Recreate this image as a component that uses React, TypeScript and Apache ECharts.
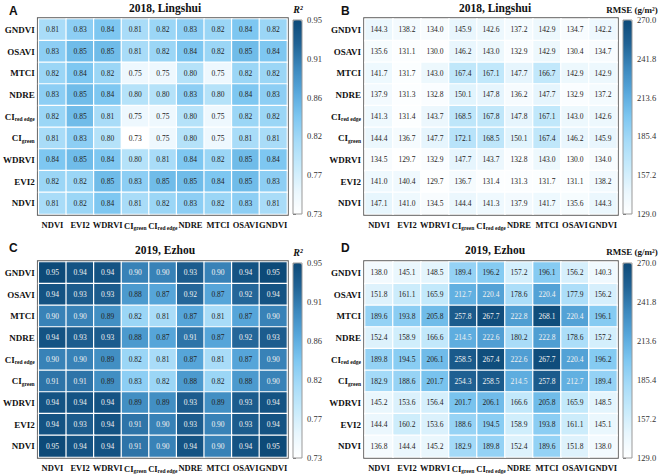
import React, { useEffect, useRef } from 'react';
import * as echarts from 'echarts';

// categories from bottom (y) / left (x)
const categories = ['NDVI', 'EVI2', 'WDRVI', 'CIgreen', 'CIred edge', 'NDRE', 'MTCI', 'OSAVI', 'GNDVI'];

// rows listed from top (GNDVI) to bottom (NDVI); columns NDVI..GNDVI
const r2Lingshui = [
  [0.81, 0.83, 0.84, 0.81, 0.82, 0.83, 0.82, 0.84, 0.82],
  [0.83, 0.85, 0.85, 0.81, 0.82, 0.84, 0.82, 0.85, 0.84],
  [0.82, 0.84, 0.82, 0.75, 0.75, 0.80, 0.75, 0.82, 0.82],
  [0.83, 0.85, 0.84, 0.80, 0.80, 0.83, 0.80, 0.84, 0.83],
  [0.82, 0.85, 0.81, 0.75, 0.75, 0.80, 0.75, 0.82, 0.82],
  [0.81, 0.83, 0.80, 0.73, 0.75, 0.80, 0.75, 0.81, 0.81],
  [0.84, 0.85, 0.84, 0.80, 0.81, 0.84, 0.82, 0.85, 0.84],
  [0.82, 0.82, 0.85, 0.83, 0.85, 0.85, 0.84, 0.85, 0.83],
  [0.81, 0.82, 0.84, 0.81, 0.82, 0.83, 0.82, 0.83, 0.81],
];

const rmseLingshui = [
  [144.3, 138.2, 134.0, 145.9, 142.6, 137.2, 142.9, 134.7, 142.2],
  [135.6, 131.1, 130.0, 146.2, 143.0, 132.9, 142.9, 130.4, 134.7],
  [141.7, 131.7, 143.0, 167.4, 167.1, 147.7, 166.7, 142.9, 142.9],
  [137.9, 131.3, 132.8, 150.1, 147.8, 136.2, 147.7, 132.9, 137.2],
  [141.3, 131.4, 143.7, 168.5, 167.8, 147.8, 167.1, 143.0, 142.6],
  [144.4, 136.7, 147.7, 172.1, 168.5, 150.1, 167.4, 146.2, 145.9],
  [134.5, 129.7, 132.9, 147.7, 143.7, 132.8, 143.0, 130.0, 134.0],
  [141.0, 140.4, 129.7, 136.7, 131.4, 131.3, 131.7, 131.1, 138.2],
  [147.1, 141.0, 134.5, 144.4, 141.3, 137.9, 141.7, 135.6, 144.3],
];

const r2Ezhou = [
  [0.95, 0.94, 0.94, 0.90, 0.90, 0.93, 0.90, 0.94, 0.95],
  [0.94, 0.93, 0.93, 0.88, 0.87, 0.92, 0.87, 0.92, 0.94],
  [0.90, 0.90, 0.89, 0.82, 0.81, 0.87, 0.81, 0.87, 0.90],
  [0.94, 0.93, 0.93, 0.88, 0.87, 0.91, 0.87, 0.92, 0.93],
  [0.90, 0.90, 0.89, 0.82, 0.81, 0.87, 0.81, 0.87, 0.90],
  [0.91, 0.91, 0.89, 0.83, 0.82, 0.88, 0.82, 0.88, 0.90],
  [0.94, 0.94, 0.94, 0.89, 0.89, 0.93, 0.89, 0.93, 0.94],
  [0.94, 0.93, 0.94, 0.91, 0.90, 0.93, 0.90, 0.93, 0.94],
  [0.95, 0.94, 0.94, 0.91, 0.90, 0.94, 0.90, 0.94, 0.95],
];

const rmseEzhou = [
  [138.0, 145.1, 148.5, 189.4, 196.2, 157.2, 196.1, 156.2, 140.3],
  [151.8, 161.1, 165.9, 212.7, 220.4, 178.6, 220.4, 177.9, 156.2],
  [189.6, 193.8, 205.8, 257.8, 267.7, 222.8, 268.1, 220.4, 196.1],
  [152.4, 158.9, 166.6, 214.5, 222.6, 180.2, 222.8, 178.6, 157.2],
  [189.8, 194.5, 206.1, 258.5, 267.4, 222.6, 267.7, 220.4, 196.2],
  [182.9, 188.6, 201.7, 254.3, 258.5, 214.5, 257.8, 212.7, 189.4],
  [145.2, 153.6, 156.4, 201.7, 206.1, 166.6, 205.8, 165.9, 148.5],
  [144.4, 160.2, 153.6, 188.6, 194.5, 158.9, 193.8, 161.1, 145.1],
  [136.8, 144.4, 145.2, 182.9, 189.8, 152.4, 189.6, 151.8, 138.0],
];

const r2Ticks = ['0.73', '0.77', '0.82', '0.86', '0.91', '0.95'];
const rmseTicks = ['129.0', '157.2', '185.4', '213.6', '241.8', '270.0'];
const r2Range = [0.73, 0.95];
const rmseRange = [129.0, 270.0];

const palette = ['#ffffff', '#e8f6fd', '#c6eafb', '#a6dbf8', '#7ec7f1', '#58a8dc', '#3d89be', '#216395', '#0d4a78'];

const SERIF = '"Liberation Serif", "Times New Roman", serif';

const axisFmt = (v: string) =>
  v === 'CIgreen' ? '{m|CI}{s|green}' : v === 'CIred edge' ? '{m|CI}{s|red edge}' : '{m|' + v + '}';
const makeRich = (size: number) => ({
  m: { fontFamily: SERIF, fontWeight: 'bold', fontSize: size, color: '#111' },
  s: { fontFamily: SERIF, fontWeight: 'bold', fontSize: 5.5, color: '#111', padding: [5, 0, 0, 0] },
});

function App() {
  const ref = useRef<HTMLDivElement>(null);
  useEffect(() => {
    if (!ref.current) return;
    const chart = echarts.init(ref.current, null, { renderer: 'svg' });

    const panels = [
      { data: r2Lingshui, range: r2Range, ticks: r2Ticks, dec: 2, thr: 99, left: 35, top: 19, h: 195, cbLeft: 293, cbTop: 20 },
      { data: rmseLingshui, range: rmseRange, ticks: rmseTicks, dec: 1, thr: 9999, left: 365, top: 19, h: 195, cbLeft: 623, cbTop: 20 },
      { data: r2Ezhou, range: r2Range, ticks: r2Ticks, dec: 2, thr: 0.895, left: 35, top: 262, h: 196, cbLeft: 293, cbTop: 263 },
      { data: rmseEzhou, range: rmseRange, ticks: rmseTicks, dec: 1, thr: 210, left: 365, top: 262, h: 196, cbLeft: 623, cbTop: 263 },
    ];

    const grid: any[] = [];
    const xAxis: any[] = [];
    const yAxis: any[] = [];
    const series: any[] = [];
    const visualMap: any[] = [];

    panels.forEach((p, i) => {
      grid.push({ left: p.left, top: p.top, width: 252, height: p.h, show: true, borderColor: '#555', borderWidth: 3.5, backgroundColor: '#fff' });
      xAxis.push({
        gridIndex: i, type: 'category', data: categories,
        axisLine: { show: false }, axisTick: { show: false }, splitLine: { show: false },
        axisLabel: { interval: 0, margin: 6, formatter: axisFmt, rich: makeRich(8.5) },
      });
      yAxis.push({
        gridIndex: i, type: 'category', data: categories,
        axisLine: { show: false }, axisTick: { show: false }, splitLine: { show: false },
        axisLabel: { interval: 0, margin: 4, formatter: axisFmt, rich: makeRich(9) },
      });
      const d: any[] = [];
      p.data.forEach((row, r) => {
        row.forEach((v, c) => {
          d.push({ value: [c, 8 - r, v], label: { color: v >= p.thr ? '#f2f2f2' : '#222222' } });
        });
      });
      series.push({
        type: 'heatmap', xAxisIndex: i, yAxisIndex: i, data: d,
        itemStyle: { borderColor: '#ffffff', borderWidth: 1.2 },
        label: {
          show: true, fontFamily: SERIF, fontSize: 7.5,
          formatter: (prm: any) => Number(prm.value[2]).toFixed(p.dec),
        },
        emphasis: { disabled: true },
      });
      visualMap.push({
        type: 'continuous', seriesIndex: i, min: p.range[0], max: p.range[1],
        calculable: false, realtime: false, hoverLink: false,
        left: p.cbLeft, top: p.cbTop, itemWidth: 9, itemHeight: p.h - 1, padding: 0,
        inRange: { color: palette },
      });
    });

    // colorbar tick axes
    panels.forEach((p, i) => {
      const gi = 4 + i;
      grid.push({ left: p.cbLeft, top: p.cbTop, width: 9, height: p.h - 1, show: true, borderColor: '#999', borderWidth: 1, z: 10, backgroundColor: 'transparent' });
      xAxis.push({ gridIndex: gi, type: 'value', show: false, min: 0, max: 1 });
      yAxis.push({
        gridIndex: gi, type: 'value', position: 'right', min: 0, max: 5, interval: 1,
        axisLine: { show: false }, splitLine: { show: false },
        axisTick: { show: true, length: 3, lineStyle: { color: '#444', width: 0.8 } },
        axisLabel: {
          margin: 5, fontFamily: SERIF, fontSize: 8.5, color: '#333',
          formatter: (v: number) => p.ticks[Math.round(v)],
        },
      });
    });

    const txt = (text: string, x: number, y: number, font: string, align = 'center') => ({
      type: 'text', x, y, silent: true,
      style: { text, font, fill: '#111', textAlign: align, textVerticalAlign: 'middle' },
    });
    const letterFont = 'bold 12px "Liberation Sans", Arial, sans-serif';
    const titleFont = 'bold 11.5px ' + SERIF;
    const graphic = [
      txt('A', 9, 11, letterFont, 'left'),
      txt('2018, Lingshui', 165, 8, titleFont),
      txt('R²', 298, 9, 'italic bold 10px ' + SERIF),
      txt('B', 341, 11, letterFont, 'left'),
      txt('2018, Lingshui', 495, 8, titleFont),
      txt('RMSE (g/m²)', 632, 10, 'bold 9px ' + SERIF),
      txt('C', 9, 248, letterFont, 'left'),
      txt('2019, Ezhou', 165, 250, titleFont),
      txt('R²', 298, 252, 'italic bold 10px ' + SERIF),
      txt('D', 341, 248, letterFont, 'left'),
      txt('2019, Ezhou', 495, 250, titleFont),
      txt('RMSE (g/m²)', 632, 252, 'bold 9px ' + SERIF),
    ];

    chart.setOption({
      animation: false,
      backgroundColor: '#ffffff',
      grid, xAxis, yAxis, series, visualMap, graphic,
    });
    return () => chart.dispose();
  }, []);
  return <div ref={ref} style={{ width: 660, height: 474, position: 'absolute', left: 0, top: 0 }} />;
}

export default App;
